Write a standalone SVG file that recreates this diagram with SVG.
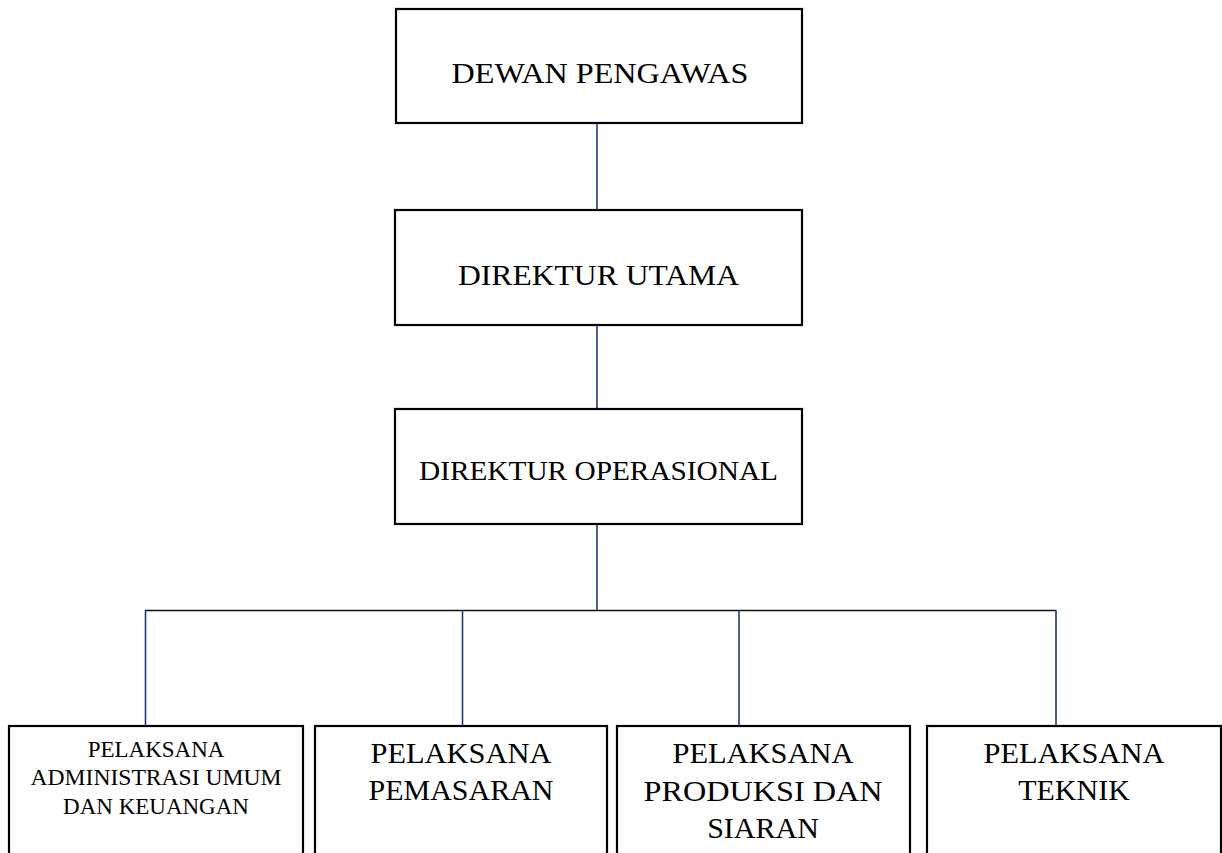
<svg xmlns="http://www.w3.org/2000/svg" width="1222" height="853" viewBox="0 0 1222 853">
<style>
.box{fill:#fff;stroke:#000;stroke-width:2.2}
.t{font-family:"Liberation Serif","DejaVu Serif",serif;fill:#000;text-anchor:middle}
.v{stroke:#1f3a7a;stroke-width:1.6;fill:none}
.h{stroke:#111;stroke-width:1.6;fill:none}
</style>
<rect width="1222" height="853" fill="#fff"/>
<g id="connectors">
<line class="v" x1="597" y1="123" x2="597" y2="210"/>
<line class="v" x1="597" y1="325" x2="597" y2="409"/>
<line class="v" x1="597" y1="524" x2="597" y2="610"/>
<line class="h" x1="145" y1="610.5" x2="1056" y2="610.5"/>
<line class="v" x1="145.5" y1="610" x2="145.5" y2="726"/>
<line class="v" x1="462.5" y1="610" x2="462.5" y2="726"/>
<line class="v" x1="739" y1="610" x2="739" y2="726"/>
<line class="v" x1="1056" y1="610" x2="1056" y2="726"/>
</g>
<g id="dewan-pengawas">
<rect class="box" x="396" y="9" width="406" height="114"/>
<text class="t" x="600" y="83" font-size="29" textLength="297" lengthAdjust="spacingAndGlyphs">DEWAN PENGAWAS</text>
</g>
<g id="direktur-utama">
<rect class="box" x="395" y="210" width="407" height="115"/>
<text class="t" x="598.5" y="285" font-size="30" textLength="281" lengthAdjust="spacingAndGlyphs">DIREKTUR UTAMA</text>
</g>
<g id="direktur-operasional">
<rect class="box" x="395" y="409" width="407" height="115"/>
<text class="t" x="598.5" y="480" font-size="28" textLength="359" lengthAdjust="spacingAndGlyphs">DIREKTUR OPERASIONAL</text>
</g>
<g id="pelaksana-administrasi">
<rect class="box" x="9" y="726" width="294" height="140"/>
<text class="t" x="156" y="757" font-size="23">PELAKSANA</text>
<text class="t" x="156" y="785" font-size="23" textLength="251" lengthAdjust="spacingAndGlyphs">ADMINISTRASI UMUM</text>
<text class="t" x="156" y="814" font-size="23">DAN KEUANGAN</text>
</g>
<g id="pelaksana-pemasaran">
<rect class="box" x="315" y="726" width="292" height="140"/>
<text class="t" x="461" y="763" font-size="30" textLength="181" lengthAdjust="spacingAndGlyphs">PELAKSANA</text>
<text class="t" x="461" y="800" font-size="30">PEMASARAN</text>
</g>
<g id="pelaksana-produksi">
<rect class="box" x="617" y="726" width="293" height="140"/>
<text class="t" x="763" y="763" font-size="30" textLength="181" lengthAdjust="spacingAndGlyphs">PELAKSANA</text>
<text class="t" x="763" y="801" font-size="30" textLength="239" lengthAdjust="spacingAndGlyphs">PRODUKSI DAN</text>
<text class="t" x="763" y="838" font-size="30">SIARAN</text>
</g>
<g id="pelaksana-teknik">
<rect class="box" x="927" y="726" width="294" height="140"/>
<text class="t" x="1074" y="763" font-size="30" textLength="181" lengthAdjust="spacingAndGlyphs">PELAKSANA</text>
<text class="t" x="1074" y="800" font-size="30">TEKNIK</text>
</g>
</svg>
